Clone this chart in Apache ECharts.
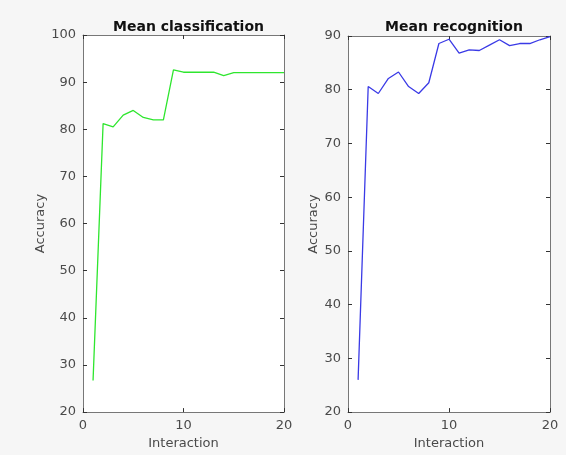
<!DOCTYPE html>
<html>
<head>
<meta charset="utf-8">
<script src="https://cdn.jsdelivr.net/npm/echarts@6/dist/echarts.min.js"></script>
<style>
  html, body { margin: 0; padding: 0; background: #f6f6f6; }
  #chart { width: 566px; height: 455px; }
</style>
</head>
<body>
<div id="chart"></div>
<script>
const interactions = [1, 2, 3, 4, 5, 6, 7, 8, 9, 10, 11, 12, 13, 14, 15, 16, 17, 18, 19, 20]
const classification = [26.7, 81.2, 80.5, 83.0, 84.0, 82.5, 82.0, 82.0, 92.6, 92.1, 92.1, 92.1, 92.1, 91.4, 92.0, 92.0, 92.0, 92.0, 92.0, 92.0]
const recognition = [26.0, 80.6, 79.3, 82.1, 83.3, 80.6, 79.3, 81.3, 88.6, 89.4, 86.8, 87.4, 87.3, 88.3, 89.3, 88.2, 88.6, 88.6, 89.3, 89.9]
const titles = ['Mean classification', 'Mean recognition']

const font = 'DejaVu Sans'
const grids = [
  { left: 83, top: 35, width: 201, height: 380 },
  { left: 348, top: 36, width: 202, height: 379 },
]

function xAx(i, pos) {
  const main = pos === 'bottom'
  return {
    type: 'value', gridIndex: i, position: pos, min: 0, max: 20, interval: 10,
    name: main ? 'Interaction' : '', nameLocation: 'middle', nameGap: 22,
    nameTextStyle: { fontFamily: font, fontSize: 13, color: '#4a4a4a' },
    axisLine: { show: true, onZero: false, lineStyle: { color: '#777', width: 1 } },
    axisTick: { show: true, inside: true, length: 4, lineStyle: { color: '#333' } },
    axisLabel: { show: main, fontFamily: font, fontSize: 13, color: '#4a4a4a', margin: 7 },
    splitLine: { show: false },
  }
}

function yAx(i, pos, max) {
  const main = pos === 'left'
  return {
    type: 'value', gridIndex: i, position: pos, min: 20, max: max, interval: 10,
    name: main ? 'Accuracy' : '', nameLocation: 'middle', nameGap: 28,
    nameTextStyle: { fontFamily: font, fontSize: 13, color: '#4a4a4a' },
    axisLine: { show: true, onZero: false, lineStyle: { color: '#777', width: 1 } },
    axisTick: { show: true, inside: true, length: 4, lineStyle: { color: '#333' } },
    axisLabel: { show: main, fontFamily: font, fontSize: 13, color: '#4a4a4a', margin: 7 },
    splitLine: { show: false },
  }
}

const chart = echarts.init(document.getElementById('chart'))
chart.setOption({
  backgroundColor: '#f6f6f6',
  animation: false,
  title: titles.map((t, i) => ({
    text: t, left: grids[i].left + grids[i].width / 2, top: 15, textAlign: 'center',
    textStyle: { fontFamily: font, fontSize: 14, fontWeight: 'bold', color: '#111' },
  })),
  grid: grids.map(g => Object.assign({ show: true, backgroundColor: '#fff', borderWidth: 0 }, g)),
  xAxis: [xAx(0, 'bottom'), xAx(0, 'top'), xAx(1, 'bottom'), xAx(1, 'top')],
  yAxis: [yAx(0, 'left', 100), yAx(0, 'right', 100), yAx(1, 'left', 90), yAx(1, 'right', 90)],
  series: [
    {
      type: 'line', xAxisIndex: 0, yAxisIndex: 0, symbol: 'none',
      data: interactions.map((x, k) => [x, classification[k]]),
      lineStyle: { color: '#2ee62e', width: 1.3 },
    },
    {
      type: 'line', xAxisIndex: 2, yAxisIndex: 2, symbol: 'none',
      data: interactions.map((x, k) => [x, recognition[k]]),
      lineStyle: { color: '#3a3ae6', width: 1.3 },
    },
  ],
})
</script>
</body>
</html>
